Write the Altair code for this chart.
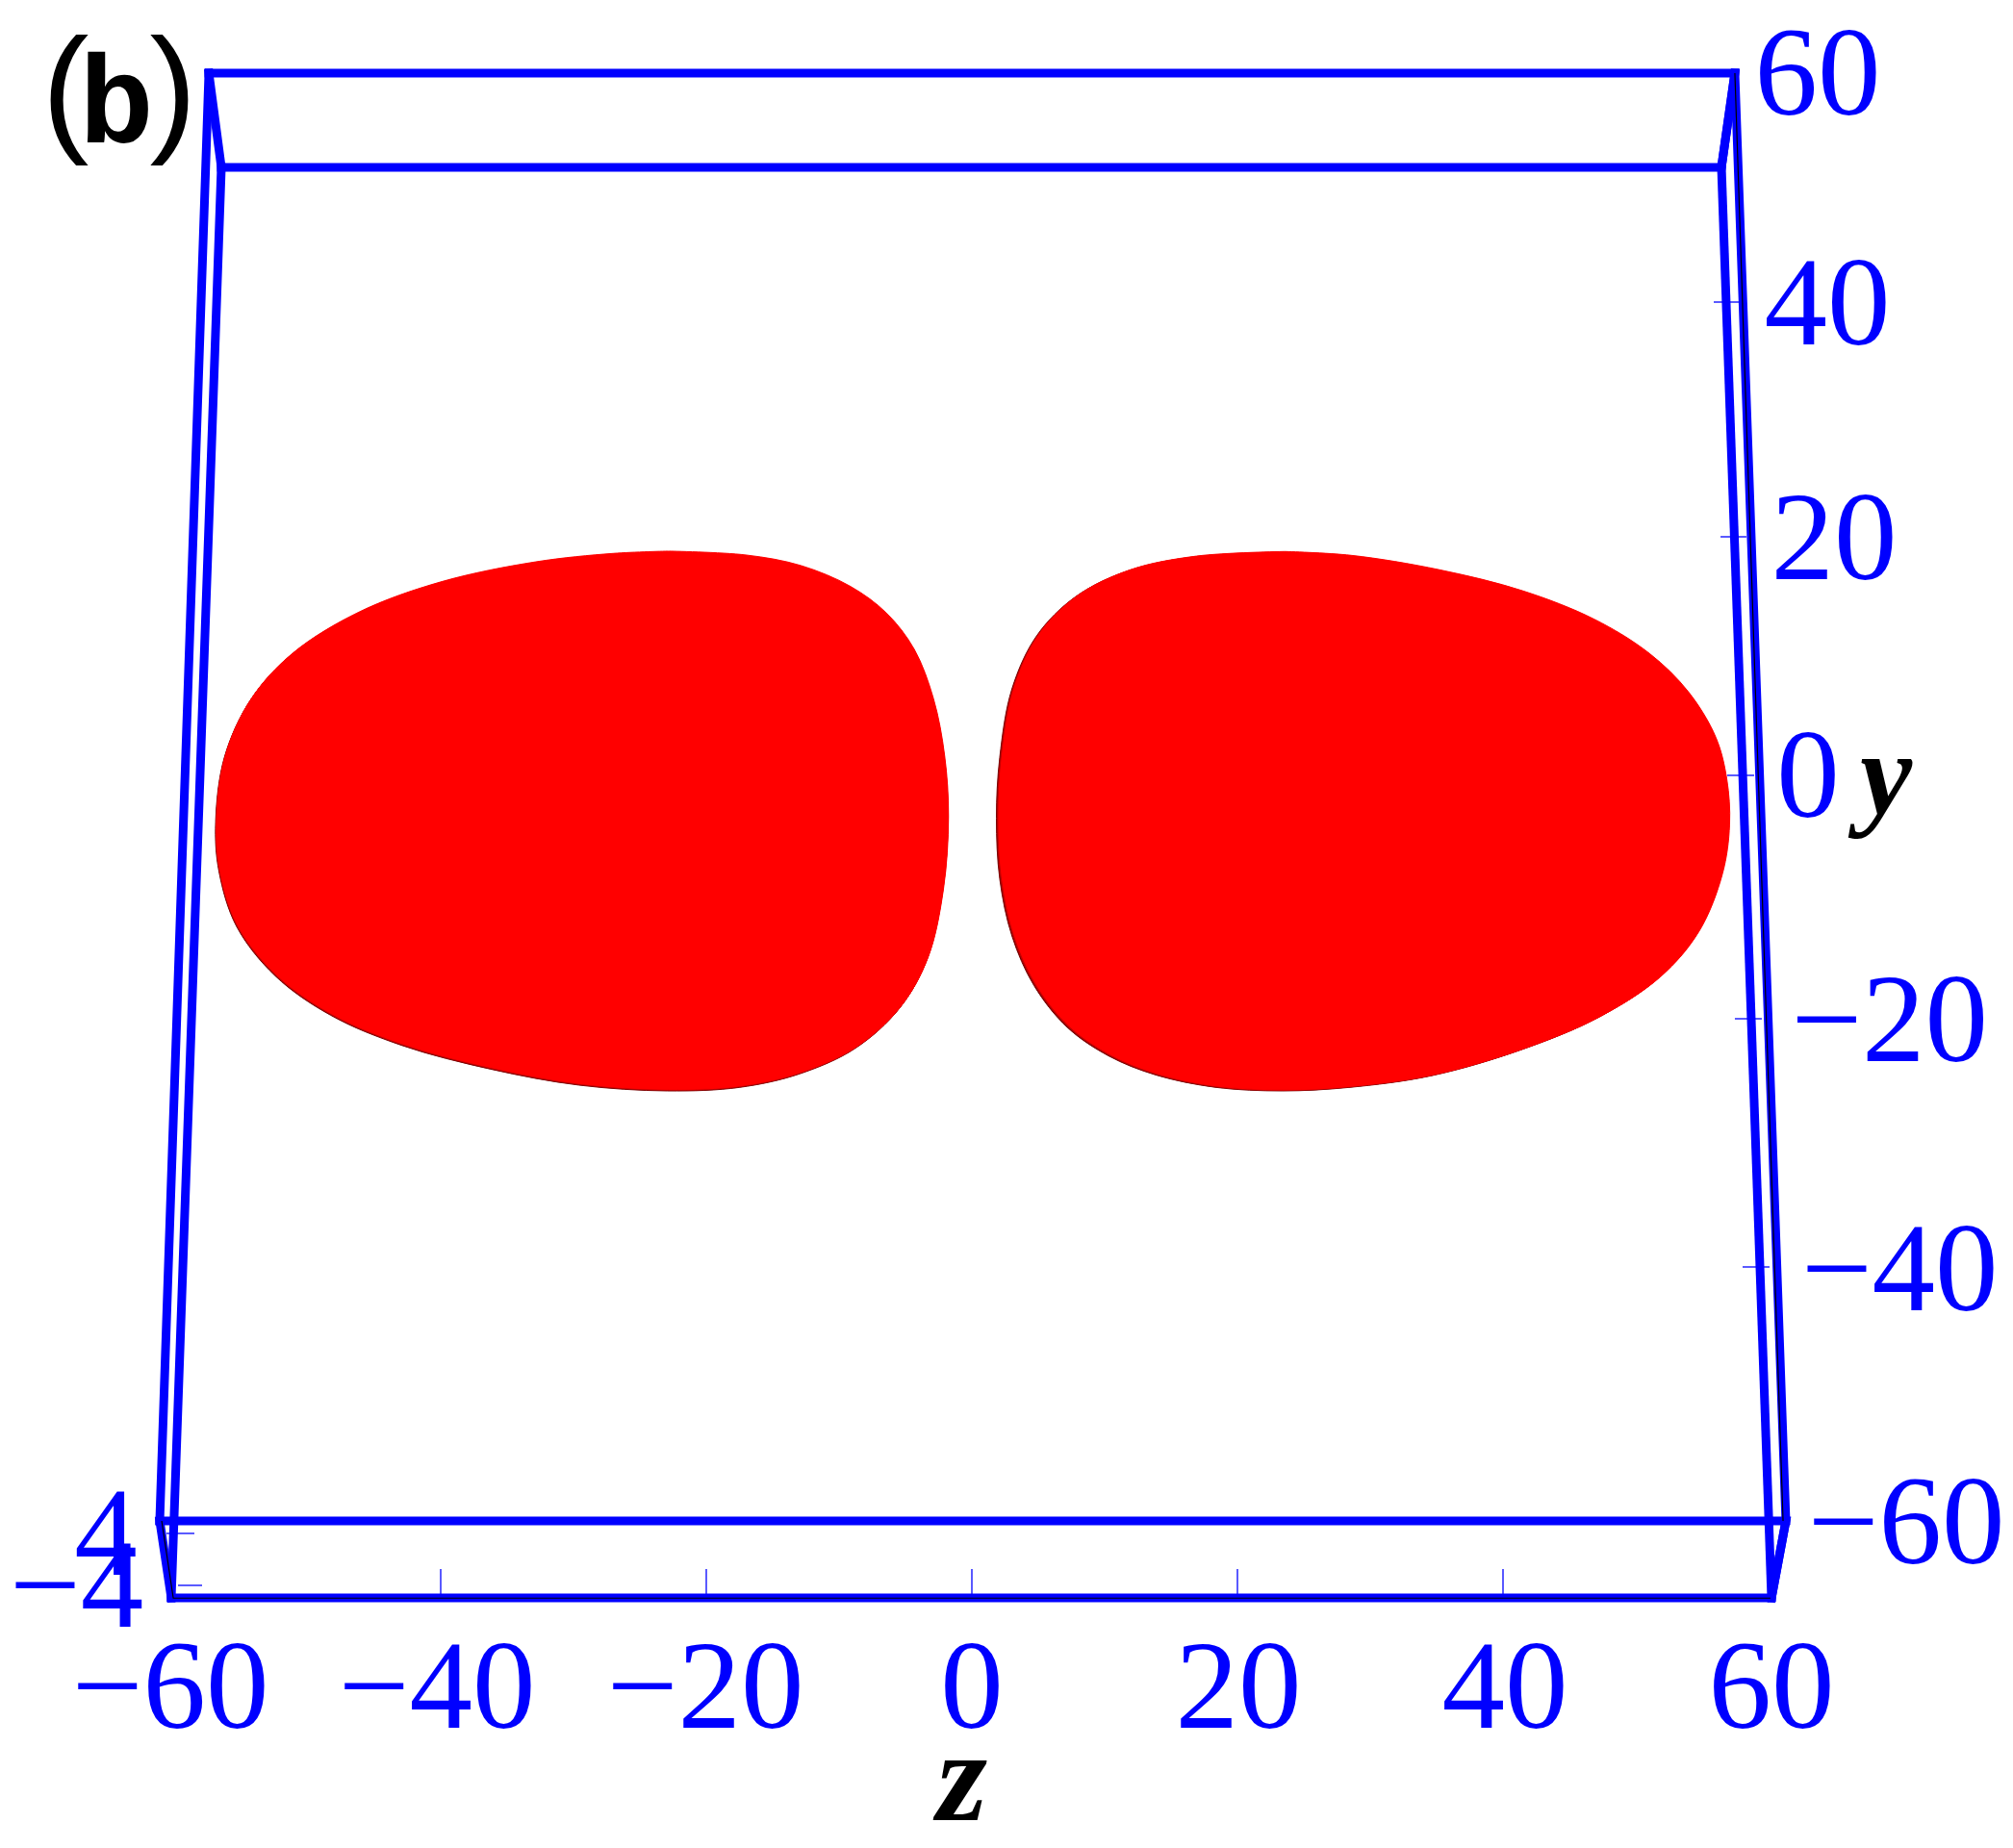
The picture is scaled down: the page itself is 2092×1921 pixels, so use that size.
import altair as alt
import pandas as pd

# Two lobes of the surface in (z, y) units (first point repeated to close the outline)
LEFT_Z = [-22.92,-17.10,-12.94,-9.20,-6.49,-4.41,-2.96,-2.12,-1.83,-2.21,-3.37,-5.45,-8.78,-12.94,-17.52,-22.92,-29.58,-36.24,-42.89,-48.30,-52.46,-55.37,-56.70,-56.95,-56.29,-54.33,-51.21,-46.22,-39.98,-32.91,-27.08,-22.92]
LEFT_Y = [18.52,18.20,17.32,15.58,13.36,10.36,6.25,1.50,-3.56,-9.57,-15.26,-19.37,-22.70,-24.81,-25.95,-26.24,-25.76,-24.43,-22.47,-19.94,-16.68,-12.57,-7.99,-3.88,1.50,6.25,10.04,13.46,15.99,17.63,18.33,18.52]
RIGHT_Z = [23.40,28.40,35.05,41.29,46.70,50.86,53.77,55.85,56.68,56.89,56.35,54.60,51.69,47.12,41.29,34.64,28.40,23.40,18.41,13.84,10.30,7.18,4.68,3.02,2.10,1.85,2.10,3.02,4.89,7.80,11.76,16.75,23.40]
RIGHT_Y = [18.52,18.20,17.00,15.26,12.89,10.04,6.88,3.08,-0.40,-4.19,-8.30,-13.05,-16.84,-20.16,-22.85,-24.97,-25.95,-26.24,-25.95,-24.91,-23.33,-20.95,-17.48,-13.36,-8.62,-3.56,1.50,7.20,11.62,14.85,17.00,18.14,18.52]

# Projected bounding box: one polyline per edge group
BOX_GROUP = ["top","top","top","top","bottom","bottom","bottom","bottom","back_l","back_l","front_l","front_l","back_r","back_r","front_r","front_r","cap_l","cap_l","cap_r","cap_r","foot_l","foot_l","foot_r","foot_r"]
BOX_Z = [-57.46,57.46,56.45,-56.52,-61.16,61.30,60.22,-60.29,-57.46,-61.16,-56.52,-60.29,57.46,61.30,56.45,60.22,-57.46,-56.52,57.46,56.45,-61.16,-60.29,61.30,60.22]
BOX_Y = [58.40,58.40,50.56,50.56,-62.00,-62.00,-68.40,-68.40,58.40,-62.00,50.56,-68.40,58.40,-62.00,50.56,-68.40,58.40,50.56,58.40,50.56,-62.00,-68.40,-62.00,-68.40]

# Thin black edges lying on top of the blue ones
EDGE_GROUP = ["a","a","b","b","b"]
EDGE_Z = [57.46,61.09,-61.01,-60.14,60.14]
EDGE_Y = [58.40,-62.00,-62.00,-68.42,-68.42]

# Tick marks
TICK_Z1 = [55.87,56.38,56.88,57.46,58.04,-60.65,-59.78,-40,-20,0,20,40]
TICK_Z2 = [57.83,58.33,58.91,59.49,60.07,-58.55,-57.97,-40,-20,0,20,40]
TICK_Y1 = [39.36,19.84,0,-20.24,-40.88,-63.04,-67.36,-66,-66,-66,-66,-66]
TICK_Y2 = [39.36,19.84,0,-20.24,-40.88,-63.04,-67.36,-68.08,-68.08,-68.08,-68.08,-68.08]

# Tick labels
LABEL_TEXT = ["−60","−40","−20","0","20","40","60","60","40","20","0","−20","−40","−60","4","−4"]
LABEL_Z = [-60.36,-40.29,-20.07,0,20.07,40.14,60.22,63.70,64.42,64.93,62.97,69.1,69.86,70.36,-65.22,-67.43]
LABEL_Y = [-79.2,-79.2,-79.2,-79.2,-79.2,-79.2,-79.2,54.96,35.84,16.32,-3.44,-23.76,-44.48,-65.52,-66.48,-70.8]

PAREN_TEXT = ["(", ")"]
PAREN_Z = [-68.26, -60.14]
PAREN_Y = [53.12, 53.12]
LETTER_Z = [-64.42]
LETTER_Y = [52.64]

BLUE = "#0000ff"
RED = "#ff0000"

xs = alt.Scale(domain=[-72.6087, 77.8261], nice=False, zero=False)
ys = alt.Scale(domain=[-88.56, 63.84], nice=False, zero=False)
X = alt.X("z:Q", scale=xs, axis=None)
Y = alt.Y("y:Q", scale=ys, axis=None)

def blob(zs, ws, color, dx=0, dy=0):
    df = pd.DataFrame({"z": zs, "y": ws, "i": range(len(zs))})
    return alt.Chart(df).mark_line(
        interpolate="catmull-rom", color=color, fill=color,
        strokeWidth=1, xOffset=dx, yOffset=dy
    ).encode(x=X, y=Y, order=alt.Order("i:Q"))

layers = [
    blob(LEFT_Z, LEFT_Y, "#7a0000", 0, 0),
    blob(LEFT_Z, LEFT_Y, "#c80000", 0.5, -0.8),
    blob(LEFT_Z, LEFT_Y, RED, 1.0, -1.6),
    blob(RIGHT_Z, RIGHT_Y, "#7a0000", 0, 0),
    blob(RIGHT_Z, RIGHT_Y, "#c80000", 1.2, -0.6),
    blob(RIGHT_Z, RIGHT_Y, RED, 2.4, -1.2),
]

box = pd.DataFrame({"g": BOX_GROUP, "z": BOX_Z, "y": BOX_Y, "i": range(len(BOX_Z))})
layers.append(alt.Chart(box).mark_line(color=BLUE, strokeWidth=9, strokeCap="square", strokeJoin="miter").encode(
    x=X, y=Y, detail="g:N", order=alt.Order("i:Q")))

edge = pd.DataFrame({"g": EDGE_GROUP, "z": EDGE_Z, "y": EDGE_Y, "i": range(len(EDGE_Z))})
layers.append(alt.Chart(edge).mark_line(color="#000000", strokeWidth=1.2).encode(
    x=X, y=Y, detail="g:N", order=alt.Order("i:Q")))

ticks = pd.DataFrame({"z": TICK_Z1, "y": TICK_Y1, "z2": TICK_Z2, "y2": TICK_Y2})
layers.append(alt.Chart(ticks).mark_rule(color=BLUE, strokeWidth=1.3).encode(
    x=X, y=Y, x2="z2:Q", y2="y2:Q"))

labels = pd.DataFrame({"t": LABEL_TEXT, "z": LABEL_Z, "y": LABEL_Y})
layers.append(alt.Chart(labels).mark_text(
    font="Liberation Serif", fontSize=131, color=BLUE, align="center", baseline="alphabetic"
).encode(x=X, y=Y, text="t:N"))

def title(text, z, y, size):
    df = pd.DataFrame({"t": [text], "z": [z], "y": [y]})
    return alt.Chart(df).mark_text(
        font="Liberation Serif", fontSize=size, fontStyle="italic", fontWeight="bold",
        color="#000000", align="center", baseline="alphabetic"
    ).encode(x=X, y=Y, text="t:N")

layers.append(title("y", 68.85, -3.2, 122))
layers.append(title("z", -0.75, -86.9, 135))

parens = pd.DataFrame({"t": PAREN_TEXT, "z": PAREN_Z, "y": PAREN_Y})
layers.append(alt.Chart(parens).mark_text(
    font="Liberation Sans", fontSize=147,
    color="#000000", align="center", baseline="alphabetic"
).encode(x=X, y=Y, text="t:N"))
letter = pd.DataFrame({"t": ["b"], "z": LETTER_Z, "y": LETTER_Y})
layers.append(alt.Chart(letter).mark_text(
    font="Liberation Mono", fontSize=130, fontWeight="bold",
    color="#000000", align="center", baseline="alphabetic"
).encode(x=X, y=Y, text="t:N"))

chart = alt.layer(*layers).properties(
    width=2076, height=1905, padding=0, background="#ffffff"
).configure_view(stroke=None)

chart.save("out.html", embed_options={"renderer": "svg", "actions": False})
